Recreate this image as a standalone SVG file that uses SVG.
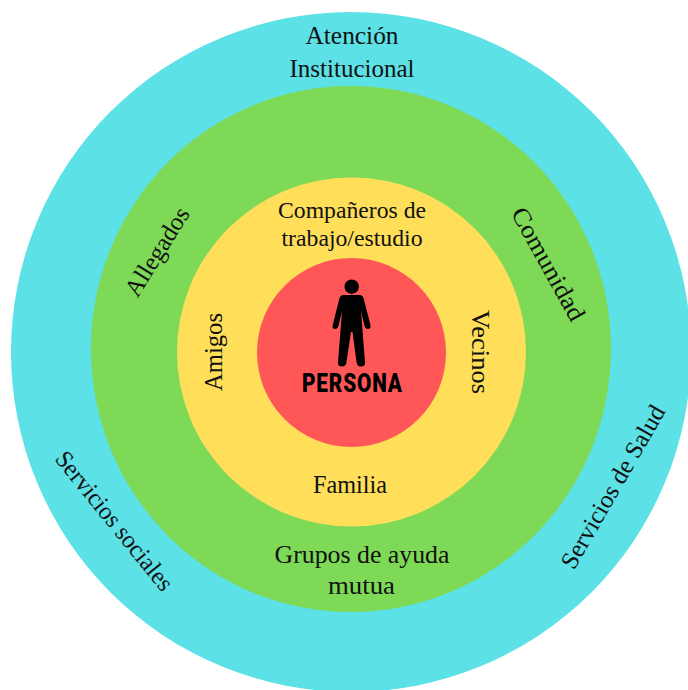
<svg xmlns="http://www.w3.org/2000/svg" width="688" height="690" viewBox="0 0 688 690">
<style>
.t{font-family:"Liberation Serif","Times New Roman",serif;font-size:25px;fill:#111;text-anchor:middle}
.s{font-size:23px}
.p{font-family:"Roboto","Liberation Sans",sans-serif;font-weight:900;font-size:26px;fill:#000;text-anchor:middle}
</style>
<rect width="688" height="690" fill="#fff"/>
<g id="ring-atencion">
<ellipse cx="351" cy="352" rx="340" ry="340" fill="#5CE1E6"/>
<text class="t" x="352" y="44" textLength="93" lengthAdjust="spacingAndGlyphs">Atención</text>
<text class="t" x="352" y="76.500" textLength="125" lengthAdjust="spacingAndGlyphs">Institucional</text>
<text class="t" transform="translate(108 526) rotate(51)" textLength="172" lengthAdjust="spacingAndGlyphs" y="0" x="0">Servicios sociales</text>
<text class="t" transform="translate(620 491) rotate(-60)" textLength="184" lengthAdjust="spacingAndGlyphs" y="0" x="0">Servicios de Salud</text>
</g>
<g id="ring-comunidad">
<ellipse cx="351" cy="349" rx="260" ry="263" fill="#7ED957"/>
<text class="t" transform="translate(164 256) rotate(-58)" textLength="100" lengthAdjust="spacingAndGlyphs" y="0" x="0">Allegados</text>
<text class="t" transform="translate(541 268) rotate(61)" textLength="126" lengthAdjust="spacingAndGlyphs" y="0" x="0">Comunidad</text>
<text class="t" x="362" y="563" textLength="175" lengthAdjust="spacingAndGlyphs">Grupos de ayuda</text>
<text class="t" x="361.500" y="594" textLength="67" lengthAdjust="spacingAndGlyphs">mutua</text>
</g>
<g id="ring-familia">
<ellipse cx="351.5" cy="352" rx="174.5" ry="174.5" fill="#FFDE59"/>
<text class="t s" x="352" y="218" textLength="148" lengthAdjust="spacingAndGlyphs">Compañeros de</text>
<text class="t s" x="352" y="245.500" textLength="141" lengthAdjust="spacingAndGlyphs">trabajo/estudio</text>
<text class="t" transform="translate(222 352) rotate(-90)" textLength="78" lengthAdjust="spacingAndGlyphs" y="0" x="0">Amigos</text>
<text class="t" transform="translate(472 352) rotate(90)" textLength="84" lengthAdjust="spacingAndGlyphs" y="0" x="0">Vecinos</text>
<text class="t" x="350" y="493" textLength="74" lengthAdjust="spacingAndGlyphs">Familia</text>
</g>
<g id="persona">
<circle cx="351.5" cy="352.5" r="94.5" fill="#FF5757"/>
<circle cx="351.7" cy="286.7" r="7.2" fill="#000"/>
<path d="M344 295H359.500Q362.500 295 363.500 298L370.500 325Q371 329 368 329Q365.500 329.500 364.500 326L361 311L365 362Q365.500 366.500 361 366.500Q357 366.500 356.500 362L352.500 332H351L346.500 362Q346 366.500 342 366.500Q337.500 366.500 338 362L342 311L338.500 326Q337.500 329.500 335 329Q332 329 332.700 325L339.500 298Q340.500 295 344 295Z" fill="#000"/>
<text class="p" transform="translate(352 392) scale(.8 1)" x="0" y="0" textLength="125" lengthAdjust="spacing">PERSONA</text>
</g>
</svg>
